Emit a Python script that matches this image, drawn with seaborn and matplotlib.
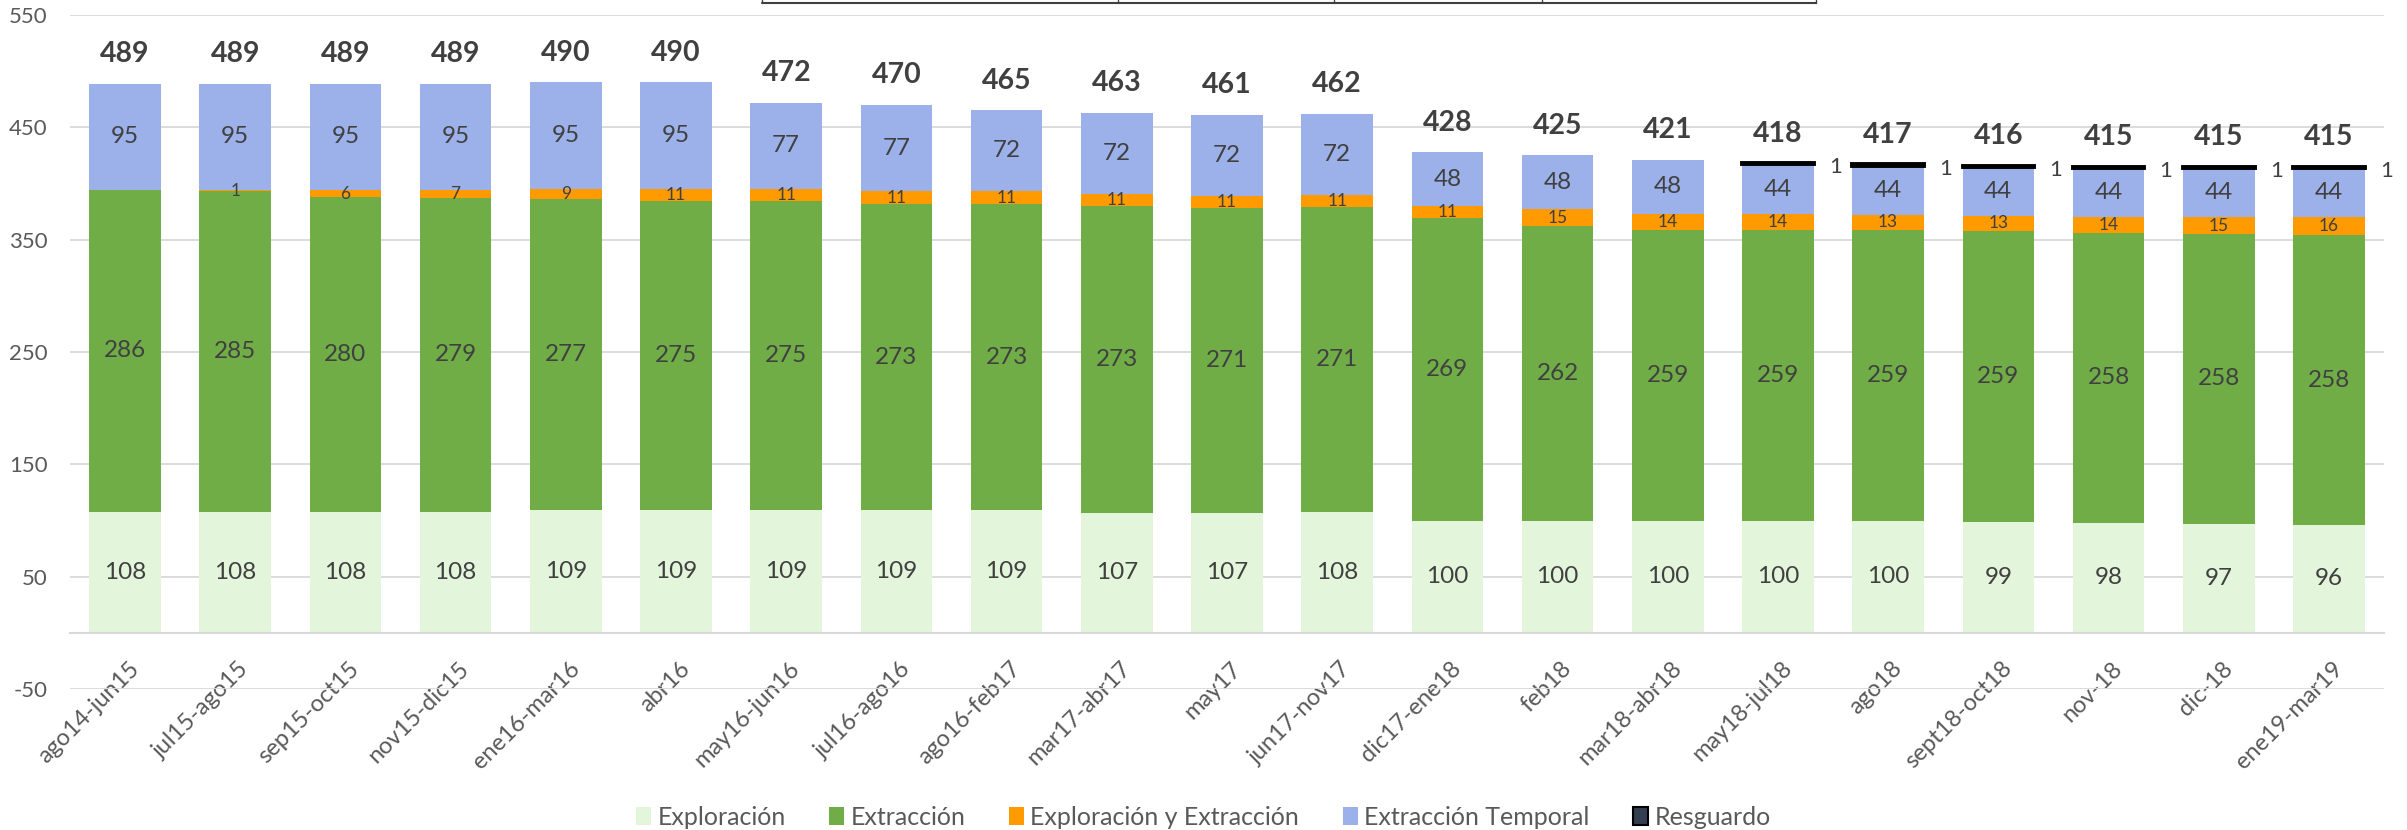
import matplotlib
matplotlib.use("Agg")
import matplotlib.pyplot as plt
import seaborn as sns
import numpy as np
from matplotlib.lines import Line2D
from matplotlib.patches import Patch
import matplotlib.transforms as mtransforms

categories = ["ago14-jun15", "jul15-ago15", "sep15-oct15", "nov15-dic15", "ene16-mar16",
              "abr16", "may16-jun16", "jul16-ago16", "ago16-feb17", "mar17-abr17", "may17",
              "jun17-nov17", "dic17-ene18", "feb18", "mar18-abr18", "may18-jul18", "ago18",
              "sept18-oct18", "nov-18", "dic-18", "ene19-mar19"]
exploracion = [108, 108, 108, 108, 109, 109, 109, 109, 109, 107, 107, 108, 100, 100, 100, 100, 100, 99, 98, 97, 96]
extraccion = [286, 285, 280, 279, 277, 275, 275, 273, 273, 273, 271, 271, 269, 262, 259, 259, 259, 259, 258, 258, 258]
expl_ext = [0, 1, 6, 7, 9, 11, 11, 11, 11, 11, 11, 11, 11, 15, 14, 14, 13, 13, 14, 15, 16]
ext_temporal = [95, 95, 95, 95, 95, 95, 77, 77, 72, 72, 72, 72, 48, 48, 48, 44, 44, 44, 44, 44, 44]
resguardo = [0, 0, 0, 0, 0, 0, 0, 0, 0, 0, 0, 0, 0, 0, 0, 1, 1, 1, 1, 1, 1]
totales = [489, 489, 489, 489, 490, 490, 472, 470, 465, 463, 461, 462, 428, 425, 421, 418, 417, 416, 415, 415, 415]
y_ticks = [-50, 50, 150, 250, 350, 450, 550]

series_names = ["Exploración", "Extracción", "Exploración y Extracción", "Extracción Temporal", "Resguardo"]
colors = ["#E3F5DA", "#70AD47", "#FF9A00", "#9CB0EA", "#333F50"]

sns.set_theme(style="white")
plt.rcParams['font.family'] = ['Lato', 'DejaVu Sans']
plt.rcParams['axes.unicode_minus'] = False

W, H = 2407, 830
fig = plt.figure(figsize=(W / 100, H / 100), dpi=100)
ax = fig.add_axes([70 / W, 1 - 689 / H, (2384 - 70) / W, (689 - 15) / H])

layers = [exploracion, extraccion, expl_ext, ext_temporal, resguardo]
bottom = np.zeros(len(categories))
for k, (vals, col) in enumerate(zip(layers, colors)):
    sns.barplot(x=categories, y=vals, bottom=bottom.copy(), color=col, saturation=1,
                width=0.65, errorbar=None, linewidth=0, ax=ax)
    cont = ax.containers[-1]
    if k == 4:
        for p, v in zip(cont.patches, vals):
            if v > 0:
                p.set_edgecolor("black")
                p.set_linewidth(2.8)
            else:
                p.set_visible(False)
    else:
        fs = 12.5 if k == 2 else 17.5
        ax.bar_label(cont, labels=[str(v) if v > 0 else "" for v in vals],
                     label_type="center", fontsize=fs, color="#404040")
    bottom = bottom + np.array(vals)

# totals
for i, t in enumerate(totales):
    ax.annotate(str(t), (i, t), xytext=(0, 15.5), textcoords="offset points",
                ha="center", va="baseline", fontsize=20.5, fontweight="bold", color="#404040")
# resguardo labels
for i, (v, t) in enumerate(zip(resguardo, totales)):
    if v > 0:
        ax.annotate(str(v), (i + 0.325, t), xytext=(11, -3), textcoords="offset points",
                    ha="left", va="center", fontsize=16, color="#404040")

ax.set_ylim(-50, 550)
ax.set_xlim(-0.5, len(categories) - 0.5)
ax.set_yticks(y_ticks)
ax.set_yticklabels([str(v) for v in y_ticks])
ax.yaxis.grid(True, color="#d9d9d9", lw=1.3)
ax.set_axisbelow(True)
for s in ["left", "right", "top"]:
    ax.spines[s].set_visible(False)
ax.spines["bottom"].set_position(("data", 0))
ax.spines["bottom"].set_color("#d9d9d9")
ax.spines["bottom"].set_linewidth(1.5)
ax.set_xlabel("")
ax.set_ylabel("")
ax.tick_params(axis="y", length=0, pad=16, labelsize=16, labelcolor="#595959")
ax.tick_params(axis="x", length=0, pad=18, labelsize=17, labelcolor="#595959")
ax.set_xticks(range(len(categories)))
ax.set_xticklabels(categories, rotation=45, ha="right", rotation_mode="anchor")
off = mtransforms.ScaledTranslation(3 / 100, 0, fig.dpi_scale_trans)
for lab in ax.get_xticklabels():
    lab.set_transform(lab.get_transform() + off)

handles = []
for name, col in zip(series_names, colors):
    ec = "black" if name == "Resguardo" else col
    handles.append(Patch(facecolor=col, edgecolor=ec, linewidth=1.5 if name == "Resguardo" else 0))
fig.legend(handles, series_names, loc="center", bbox_to_anchor=(0.5, 1 - 817 / H), ncol=5,
           frameon=False, fontsize=18, handlelength=0.6, handleheight=0.7,
           handletextpad=0.25, columnspacing=1.75, labelcolor="#595959")

# cut-off table border at the top
xs = [762, 1118, 1334, 1542, 1816]
fig.add_artist(Line2D([xs[0] / W, xs[-1] / W], [1 - 3 / H, 1 - 3 / H],
                      transform=fig.transFigure, color="#404040", lw=1.5))
for x in xs:
    fig.add_artist(Line2D([x / W, x / W], [1 - 3 / H, 1.0], transform=fig.transFigure,
                          color="#404040", lw=1))

fig.savefig("out.png", dpi=100)
